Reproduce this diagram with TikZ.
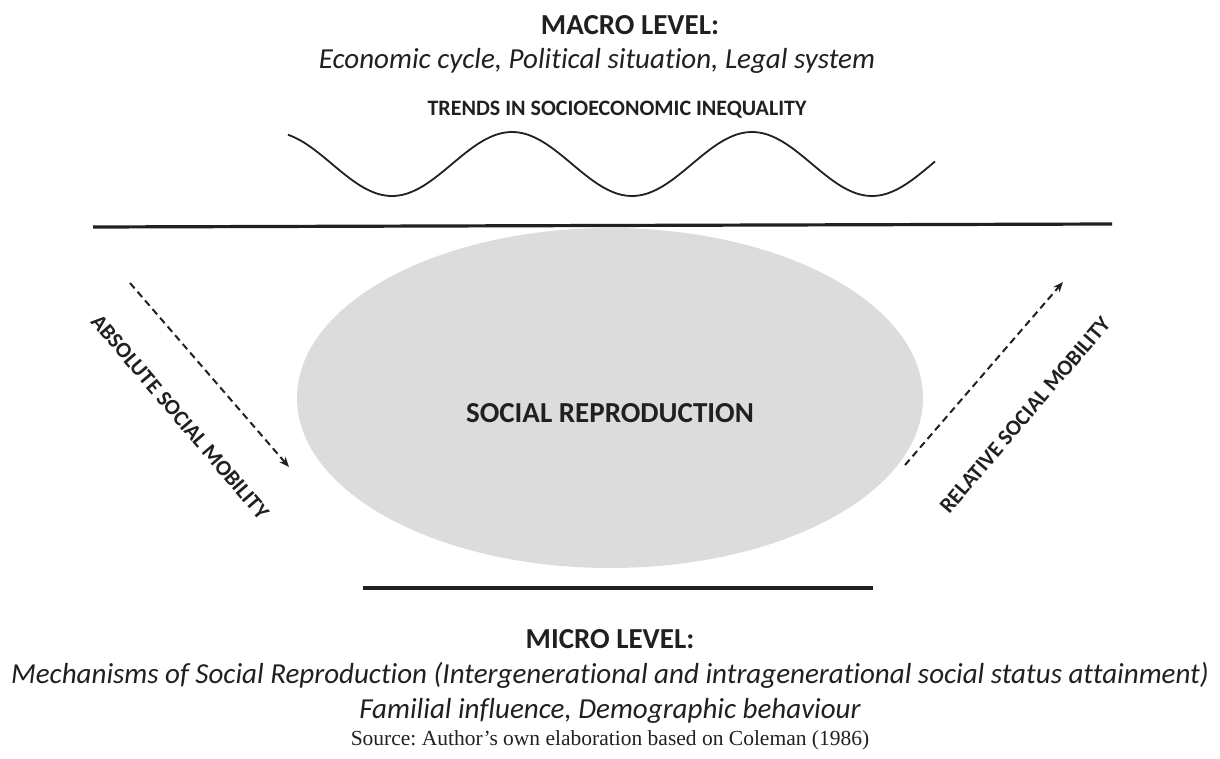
\documentclass[tikz,border=0pt]{standalone}
\usepackage{fontspec}
\setmainfont{Carlito}[Ligatures={NoCommon}]
\newfontfamily\srcfont{Liberation Serif}
\usetikzlibrary{arrows.meta,shapes.geometric}
\definecolor{ink}{HTML}{231F20}
\definecolor{ovalgray}{HTML}{DCDCDD}
\frenchspacing
\begin{document}
\begin{tikzpicture}[x=1pt,y=-1pt,
  every node/.style={text=ink, inner sep=0pt, anchor=base},
  heading/.style={font=\fontsize{29}{34}\selectfont\bfseries},
  smallcaps/.style={font=\fontsize{22}{26}\selectfont\bfseries},
  detail/.style={font=\fontsize{29}{34}\selectfont\itshape},
  mobility/.style={font=\fontsize{22}{26}\selectfont\bfseries, anchor=center},
  boundary/.style={draw=ink, line width=3.2pt},
  flow/.style={draw=ink, line width=2pt, dash pattern=on 7pt off 4.5pt, -{Stealth[length=10pt,width=8pt]}}
]
\useasboundingbox (0,0) rectangle (1220,758);

% macro level heading
\node[heading] (macro) at (630,34) {MACRO LEVEL:};
\node[detail] (macrodet) at (597,68) {Economic cycle, Political situation, Legal system};
\node[smallcaps] (trends) at (617,115) {TRENDS IN SOCIOECONOMIC INEQUALITY};

% inequality wave
\draw[draw=ink, line width=1.8pt, line join=round]
  plot[domain=288:935, samples=200, smooth] (\x, {164 + 32*cos(1.5*(\x-392))});

% macro / micro boundaries
\coordinate (topL) at (93,227);
\coordinate (topR) at (1112,224);
\draw[boundary] (topL) -- (topR);

\node[ellipse, fill=ovalgray, minimum width=626pt, minimum height=340pt, anchor=center] (repro) at (610,398) {};
\node[heading] (reprolabel) at (610,422) {SOCIAL REPRODUCTION};

\coordinate (botL) at (363,588);
\coordinate (botR) at (873,588);
\draw[boundary] (botL) -- (botR);

% mobility arrows
\coordinate (absA) at (130,283);
\coordinate (absB) at (289,467);
\draw[flow] (absA) -- (absB);
\node[mobility, rotate=-49.5] (abslabel) at (180,417) {ABSOLUTE SOCIAL MOBILITY};

\coordinate (relA) at (905,465);
\coordinate (relB) at (1063,282);
\draw[flow] (relA) -- (relB);
\node[mobility, rotate=49.5] (rellabel) at (1025,415) {RELATIVE SOCIAL MOBILITY};

% micro level
\node[heading] (micro) at (610,648) {MICRO LEVEL:};
\node[detail] (microdet) at (610,683) {Mechanisms of Social Reproduction (Intergenerational and intragenerational social status attainment)};
\node[detail] (microdet2) at (610,718) {Familial influence, Demographic behaviour};
\node[font=\srcfont\fontsize{21.5}{26}\selectfont] (source) at (610,745) {Source: Author’s own elaboration based on Coleman (1986)};
\end{tikzpicture}
\end{document}
